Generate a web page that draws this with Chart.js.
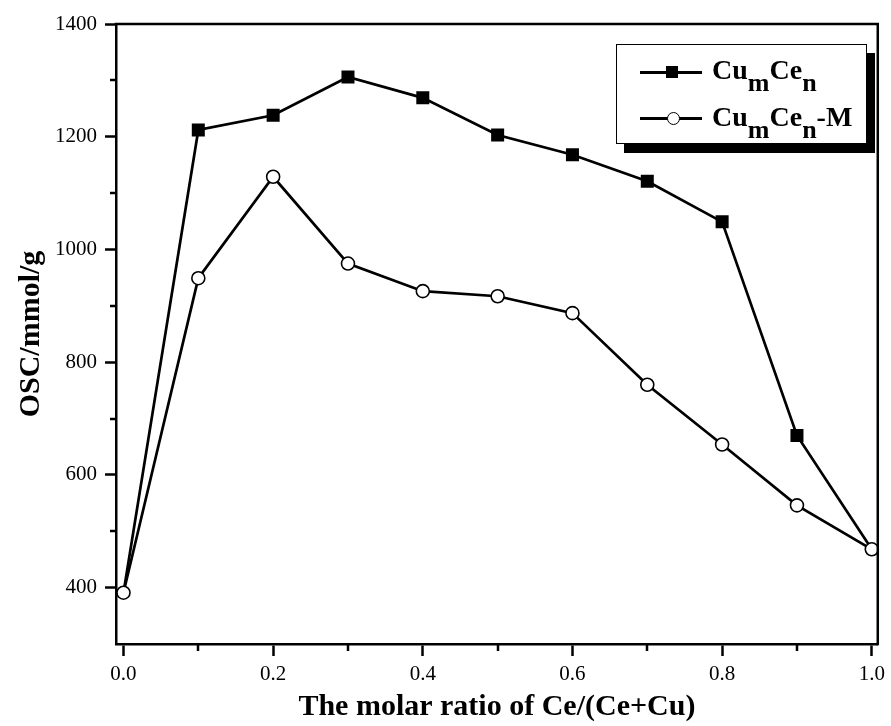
<!DOCTYPE html>
<html>
<head>
<meta charset="utf-8">
<script src="https://cdn.jsdelivr.net/npm/chart.js@4/dist/chart.umd.min.js"></script>
<style>
html,body{margin:0;padding:0;background:#fff;}
#wrap{position:relative;width:891px;height:726px;overflow:hidden;}
#chart{position:absolute;left:0;top:0;}
.lg-box{position:absolute;left:616px;top:44px;width:251px;height:100px;box-sizing:border-box;border:1.5px solid #000;background:#fff;box-shadow:8px 9px 0 #000;}
.lg-line{position:absolute;width:62px;height:2.7px;background:#000;}
.lg-sq{position:absolute;width:12px;height:12px;background:#000;}
.lg-ci{position:absolute;width:13px;height:13px;box-sizing:border-box;border:1.5px solid #000;border-radius:50%;background:#fff;}
.lg-text{position:absolute;font-family:"Liberation Serif","Times New Roman",serif;font-weight:bold;font-size:28px;line-height:28px;white-space:nowrap;color:#000;}
.lg-text sub{font-size:26px;vertical-align:-12px;line-height:0;}
</style>
</head>
<body>
<div id="wrap">
<canvas id="chart" width="891" height="726"></canvas>
<div class="lg-box"></div>
<div class="lg-line" style="left:640px;top:71px;"></div>
<div class="lg-sq" style="left:666px;top:66px;"></div>
<div class="lg-text" style="left:712px;top:56px;">Cu<sub>m</sub>Ce<sub>n</sub></div>
<div class="lg-line" style="left:640px;top:117px;"></div>
<div class="lg-ci" style="left:667px;top:112px;"></div>
<div class="lg-text" style="left:712px;top:103px;">Cu<sub>m</sub>Ce<sub>n</sub>-M</div>
</div>
<script>
// ---- data ----
const xValues = [0.0, 0.1, 0.2, 0.3, 0.4, 0.5, 0.6, 0.7, 0.8, 0.9, 1.0];
const seriesCumCen = [391, 1212, 1238, 1306, 1269, 1203, 1168, 1121, 1049, 670, 468];
const seriesCumCenM = [391, 949, 1129, 975, 926, 917, 887, 760, 654, 546, 468];
const xTickValues = [0.0, 0.2, 0.4, 0.6, 0.8, 1.0];
const xMinorTickValues = [0.1, 0.3, 0.5, 0.7, 0.9];
const yTickValues = [400, 600, 800, 1000, 1200, 1400];
const yMinorTickValues = [500, 700, 900, 1100, 1300];
const xTitle = 'The molar ratio of Ce/(Ce+Cu)';
const yTitle = 'OSC/mmol/g';

const toPoints = (ys) => xValues.map((x, i) => ({x: x, y: ys[i]}));

const minorTicksPlugin = {
  id: 'minorTicks',
  afterDraw(chart) {
    const ctx = chart.ctx;
    const xs = chart.scales.x, ys = chart.scales.y;
    const area = chart.chartArea;
    ctx.save();
    ctx.strokeStyle = '#000';
    ctx.lineWidth = 2.5;
    ctx.beginPath();
    // top and right frame lines
    ctx.moveTo(area.left - 1.25, area.top);
    ctx.lineTo(area.right, area.top);
    ctx.lineTo(area.right, area.bottom + 1.25);
    xMinorTickValues.forEach(v => {
      const px = Math.round(xs.getPixelForValue(v));
      ctx.moveTo(px, area.bottom);
      ctx.lineTo(px, area.bottom + 7);
    });
    yMinorTickValues.forEach(v => {
      const py = Math.round(ys.getPixelForValue(v));
      ctx.moveTo(area.left, py);
      ctx.lineTo(area.left - 6, py);
    });
    ctx.stroke();
    ctx.restore();
  }
};

const tickFont = {family: '"Liberation Serif", "Times New Roman", serif', size: 21};
const titleFont = {family: '"Liberation Serif", "Times New Roman", serif', size: 30, weight: 'bold', lineHeight: 1};

new Chart(document.getElementById('chart'), {
  type: 'line',
  data: {
    datasets: [
      {
        label: 'CumCen',
        data: toPoints(seriesCumCen),
        order: 1,
        borderColor: '#000',
        borderWidth: 2.7,
        backgroundColor: '#000',
        pointStyle: 'rect',
        pointRadius: (c) => (seriesCumCen[c.dataIndex] === seriesCumCenM[c.dataIndex] ? 0 : 9.2),
        pointBackgroundColor: '#000',
        pointBorderWidth: 0,
        tension: 0,
        fill: false
      },
      {
        label: 'CumCen-M',
        data: toPoints(seriesCumCenM),
        order: 0,
        borderColor: '#000',
        borderWidth: 2.7,
        backgroundColor: '#fff',
        pointStyle: 'circle',
        pointRadius: 6.5,
        pointBackgroundColor: '#fff',
        pointBorderColor: '#000',
        pointBorderWidth: 1.6,
        tension: 0,
        fill: false
      }
    ]
  },
  options: {
    responsive: false,
    animation: false,
    devicePixelRatio: 1,
    layout: {padding: {top: 24, right: 11, bottom: 0, left: 0}},
    plugins: {legend: {display: false}, tooltip: {enabled: false}},
    scales: {
      x: {
        type: 'linear',
        position: 'bottom',
        min: -0.01,
        max: 1.008,
        afterFit: (s) => { s.height = 82; },
        afterBuildTicks: (s) => { s.ticks = xTickValues.map(v => ({value: v})); },
        ticks: {
          callback: (v) => Number(v).toFixed(1),
          font: tickFont, color: '#000', padding: 6, maxRotation: 0, autoSkip: false
        },
        grid: {drawOnChartArea: false, drawTicks: true, tickLength: 12, tickWidth: 2.5, tickColor: '#000'},
        border: {display: true, color: '#000', width: 2.5},
        title: {display: true, text: xTitle, font: titleFont, color: '#000', padding: {top: 0, bottom: 4}}
      },
      y: {
        type: 'linear',
        position: 'left',
        min: 300,
        max: 1400,
        afterFit: (s) => { s.width = 116; },
        afterBuildTicks: (s) => { s.ticks = yTickValues.map(v => ({value: v})); },
        ticks: {
          callback: (v) => String(v),
          font: tickFont, color: '#000', padding: 8, autoSkip: false
        },
        grid: {drawOnChartArea: false, drawTicks: true, tickLength: 11, tickWidth: 2.5, tickColor: '#000'},
        border: {display: true, color: '#000', width: 2.5},
        title: {display: true, text: yTitle, font: titleFont, color: '#000', padding: {top: 16, bottom: 0}}
      }
    }
  },
  plugins: [minorTicksPlugin]
});
</script>
</body>
</html>
